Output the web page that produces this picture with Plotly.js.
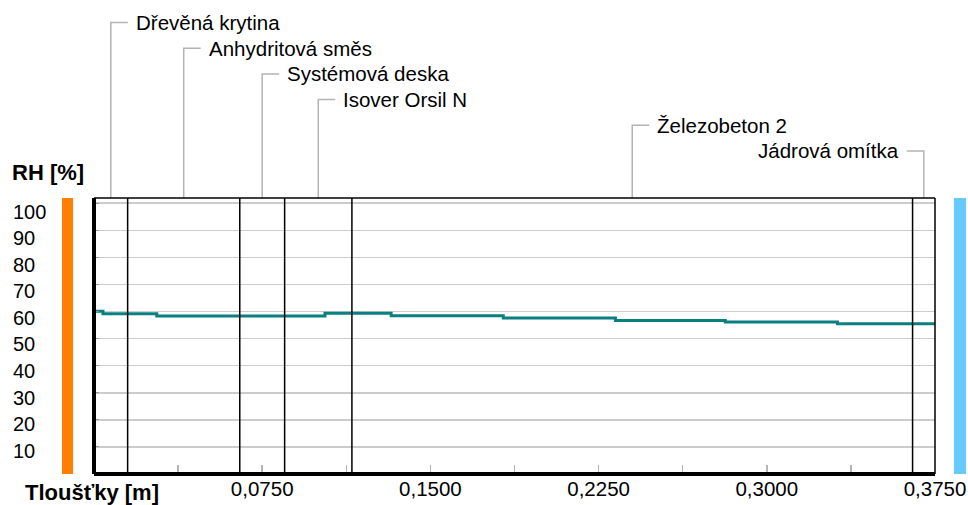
<!DOCTYPE html>
<html><head><meta charset="utf-8">
<script src="https://cdn.plot.ly/plotly-3.0.1.min.js"></script>
<style>html,body{margin:0;padding:0;background:#fff;overflow:hidden}</style>
</head><body><div id="chart" style="width:968px;height:505px"></div>
<script>
// ---- data ----
const layerNames = ["Dřevěná krytina", "Anhydritová směs", "Systémová deska", "Isover Orsil N", "Železobeton 2", "Jádrová omítka"];
const layerThickness = [0.015, 0.05, 0.02, 0.03, 0.25, 0.01];
const rhX = [0, 0.004, 0.028, 0.103, 0.1325, 0.1825, 0.2325, 0.2815, 0.3315, 0.375];
const rhY = [60.1, 59.2, 58.3, 59.4, 58.4, 57.6, 56.7, 56.1, 55.5, 55.5];
const xTickVals = [0.0375, 0.075, 0.1125, 0.15, 0.1875, 0.225, 0.2625, 0.3, 0.3375, 0.375];
const xTickText = ["", "0,0750", "", "0,1500", "", "0,2250", "", "0,3000", "", "0,3750"];
const yTickVals = [10, 20, 30, 40, 50, 60, 70, 80, 90, 100];
const yTickText = ["10", "20", "30", "40", "50", "60", "70", "80", "90", "100"];
const yTitle = "RH [%]";
const xTitle = "Tloušťky [m]";

// ---- geometry ----
const W = 968, H = 505;
const L = 94, R = 33, T = 198, B = 31;
const plotW = W - L - R, plotH = H - T - B;
const xMax = 0.375;
const pxPerM = plotW / xMax;
const yMax = plotH / 2.708;
const FONT = "Liberation Sans, Arial, sans-serif";
const py = ypx => (H - B - ypx) / plotH;   // pixel y -> paper
const px = xpx => (xpx - L) / plotW;       // pixel x -> paper

// boundaries and centers
const bounds = [];
let acc = 0;
layerThickness.forEach(t => { acc += t; bounds.push(acc); });
const centers = layerThickness.map((t, i) => bounds[i] - t / 2);

const shapes = [];
const annotations = [];

// layer boundary lines
bounds.slice(0, -1).forEach(b => shapes.push({
  type: "line", xref: "x", yref: "paper", x0: b, x1: b, y0: 0, y1: 1,
  line: {color: "#000", width: 1.5}
}));

// leader lines + labels
const seg = 17 / pxPerM, gap = 6 / pxPerM;
centers.forEach((c, i) => {
  const lvl = py(151 - (layerNames.length - 1 - i) * 25.7);
  const last = i === layerNames.length - 1;
  const hx = last ? c - seg : c + seg;
  shapes.push({type: "path", xref: "x", yref: "paper",
    path: `M ${c} 1 L ${c} ${lvl} L ${hx} ${lvl}`,
    line: {color: "#b4b4b4", width: 1.5}});
  annotations.push({xref: "x", yref: "paper", x: last ? hx - gap : hx + gap, y: lvl,
    xanchor: last ? "right" : "left", yanchor: "middle", showarrow: false,
    text: layerNames[i], font: {family: FONT, size: 20.5, color: "#000"}});
});

// frame
shapes.push({type: "line", xref: "paper", yref: "paper", x0: 0, x1: 1, y0: 1, y1: 1, line: {color: "#000", width: 1.5}});
shapes.push({type: "line", xref: "paper", yref: "paper", x0: 1, x1: 1, y0: 0, y1: 1, line: {color: "#000", width: 1.5}});
shapes.push({type: "line", xref: "paper", yref: "paper", x0: 0, x1: 0, y0: 0, y1: 1, line: {color: "#000", width: 4}});
shapes.push({type: "line", xref: "paper", yref: "paper", x0: 0, x1: 1, y0: 0, y1: 0, line: {color: "#000", width: 4}});

// side colour bars
shapes.push({type: "rect", xref: "paper", yref: "paper", x0: px(62), x1: px(73), y0: 0, y1: 1, fillcolor: "#FF8000", line: {width: 0}});
shapes.push({type: "rect", xref: "paper", yref: "paper", x0: px(954), x1: px(966), y0: 0, y1: 1, fillcolor: "#66CCFF", line: {width: 0}});

// y tick labels (left aligned)
yTickVals.forEach((v, i) => annotations.push({
  xref: "paper", yref: "y2", x: px(11), y: v, xanchor: "left", yanchor: "middle",
  showarrow: false, text: yTickText[i], font: {family: FONT, size: 20, color: "#000"}
}));

// axis titles
annotations.push({xref: "paper", yref: "paper", x: px(10), y: py(172), xanchor: "left", yanchor: "middle",
  showarrow: false, text: "<b>" + yTitle + "</b>", font: {family: FONT, size: 22, color: "#000"}});
annotations.push({xref: "paper", yref: "paper", x: px(23), y: py(492), xanchor: "left", yanchor: "middle",
  showarrow: false, text: "<b>" + xTitle + "</b>", font: {family: FONT, size: 22, color: "#000"}});

const trace = {
  x: rhX, y: rhY, type: "scatter", mode: "lines",
  line: {shape: "hv", color: "#0A7F7F", width: 3},
  hoverinfo: "skip", cliponaxis: true
};

const layout = {
  width: W, height: H,
  margin: {l: L, r: R, t: T, b: B, pad: 0},
  paper_bgcolor: "#fff", plot_bgcolor: "#fff",
  showlegend: false,
  font: {family: FONT, size: 20, color: "#000"},
  xaxis: {
    range: [0, xMax], showgrid: false, zeroline: false, showline: false,
    tickmode: "array", tickvals: xTickVals, ticktext: xTickText,
    ticks: "inside", ticklen: 9, tickwidth: 1.5, tickcolor: "#b4b4b4",
    tickfont: {family: FONT, size: 20.5, color: "#000"}, fixedrange: true
  },
  yaxis: {
    range: [0, yMax], showgrid: true, gridcolor: "#cccccc", gridwidth: 1.5,
    zeroline: false, showline: false, tickmode: "array", tickvals: yTickVals,
    showticklabels: false, ticks: "inside", ticklen: 5, tickcolor: "#999", fixedrange: true
  },
  yaxis2: {
    overlaying: "y", range: [1.23, 105.08], visible: false, fixedrange: true
  },
  shapes: shapes,
  annotations: annotations
};

Plotly.newPlot("chart", [trace], layout, {staticPlot: true, displayModeBar: false});
</script></body></html>
